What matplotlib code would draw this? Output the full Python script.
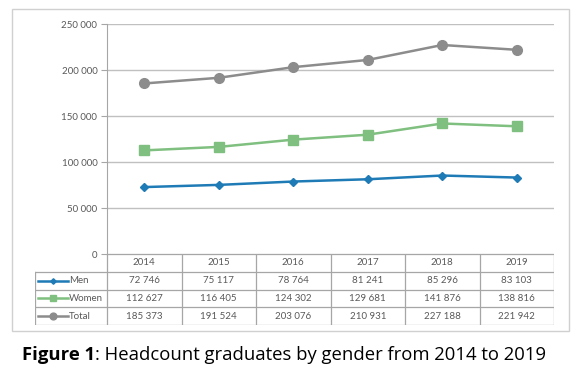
import numpy as np
import matplotlib.pyplot as plt
from matplotlib.patches import Rectangle

years = ["2014", "2015", "2016", "2017", "2018", "2019"]
men = [72746, 75117, 78764, 81241, 85296, 83103]
women = [112627, 116405, 124302, 129681, 141876, 138816]
total = [185373, 191524, 203076, 210931, 227188, 221942]

series_names = ["Men", "Women", "Total"]
series_vals = [men, women, total]
colors = ["#1f7bb6", "#7fbf7f", "#8c8c8c"]
markers = ["D", "s", "o"]
msizes = [4, 6.5, 7]

yticks = [0, 50000, 100000, 150000, 200000, 250000]

def fmt(v):
    return "{:,}".format(int(v)).replace(",", " ")

W, H = 580, 383
fig = plt.figure(figsize=(W / 100, H / 100), dpi=100)
plt.rcParams['font.family'] = ['Lato', 'DejaVu Sans']

# pixel geometry
px_left, px_right = 107, 554
px_top, px_zero = 24, 254
px_tab_left, px_tab_bot = 35, 325
txt_col = "#595959"
grid_col = "#c0c0c0"
tab_col = "#a6a6a6"
fs = 7

# outer chart frame
fig.add_artist(Rectangle((12 / W, 1 - 331 / H), (569 - 12) / W, (331 - 9) / H,
                         transform=fig.transFigure, fill=False, ec="#d0d0d0", lw=1.0))

ax = fig.add_axes([px_left / W, 1 - px_zero / H, (px_right - px_left) / W, (px_zero - px_top) / H])
x = np.arange(len(years))
for name, vals, c, m, ms in zip(series_names, series_vals, colors, markers, msizes):
    ax.plot(x, vals, color=c, marker=m, markersize=ms, lw=1.8, label=name, zorder=3)
ax.set_xlim(-0.5, len(years) - 0.5)
ax.set_ylim(0, 250000)
ax.set_yticks(yticks)
ax.set_yticklabels([fmt(v) for v in yticks], fontsize=fs, color=txt_col)
ax.set_xticks([])
ax.yaxis.grid(True, color=grid_col, lw=1.0)
ax.set_axisbelow(True)
for s in ["top", "right", "bottom"]:
    ax.spines[s].set_visible(False)
ax.spines["left"].set_color(tab_col)
ax.tick_params(axis="y", length=4, color=tab_col, pad=3)

# data table below the plot, columns aligned with the x positions
dpp = (len(years)) / (px_right - px_left)
tab = fig.add_axes([px_tab_left / W, 1 - px_tab_bot / H, (px_right - px_tab_left) / W, (px_tab_bot - px_zero) / H])
xl = -0.5 - (px_left - px_tab_left) * dpp
tab.set_xlim(xl, len(years) - 0.5)
tab.set_ylim(0, 4)
tab.axis("off")
ncol = len(years)
lw = 0.9
tab.plot([-0.5, ncol - 0.5], [4, 4], color=tab_col, lw=lw)
for k in range(ncol + 1):
    tab.plot([k - 0.5, k - 0.5], [0, 4], color=tab_col, lw=lw)
tab.plot([xl, xl], [0, 3], color=tab_col, lw=lw)
for r in range(4):
    tab.plot([xl, ncol - 0.5], [r, r], color=tab_col, lw=lw)
for k, yr in enumerate(years):
    tab.text(k, 3.5, yr, ha="center", va="center", fontsize=fs, color=txt_col)
for i, (name, vals, c, m, ms) in enumerate(zip(series_names, series_vals, colors, markers, msizes)):
    yc = 2.5 - i
    for k, v in enumerate(vals):
        tab.text(k, yc, fmt(v), ha="center", va="center", fontsize=fs, color=txt_col)
    lx0 = xl + 3 * dpp
    lx1 = xl + 33 * dpp
    tab.plot([lx0, lx1], [yc, yc], color=c, lw=1.8)
    tab.plot([(lx0 + lx1) / 2], [yc], color=c, marker=m, markersize=ms * 0.7)
    tab.text(lx1 + 1 * dpp, yc, name, ha="left", va="center", fontsize=fs, color=txt_col)

# caption: bold label + normal text
cap_y = 1 - 355 / H
cap_fs = 13.3
t1 = fig.text(22 / W, cap_y, "Figure 1", ha="left", va="center", fontsize=cap_fs,
              fontweight="bold", family=["Open Sans", "DejaVu Sans"])
r = fig.canvas.get_renderer()
bb = t1.get_window_extent(r)
fig.text(bb.x1 / W, cap_y, ": Headcount graduates by gender from 2014 to 2019", ha="left", va="center",
         fontsize=cap_fs, family=["Open Sans", "DejaVu Sans"])

fig.savefig("out.png", dpi=100)
